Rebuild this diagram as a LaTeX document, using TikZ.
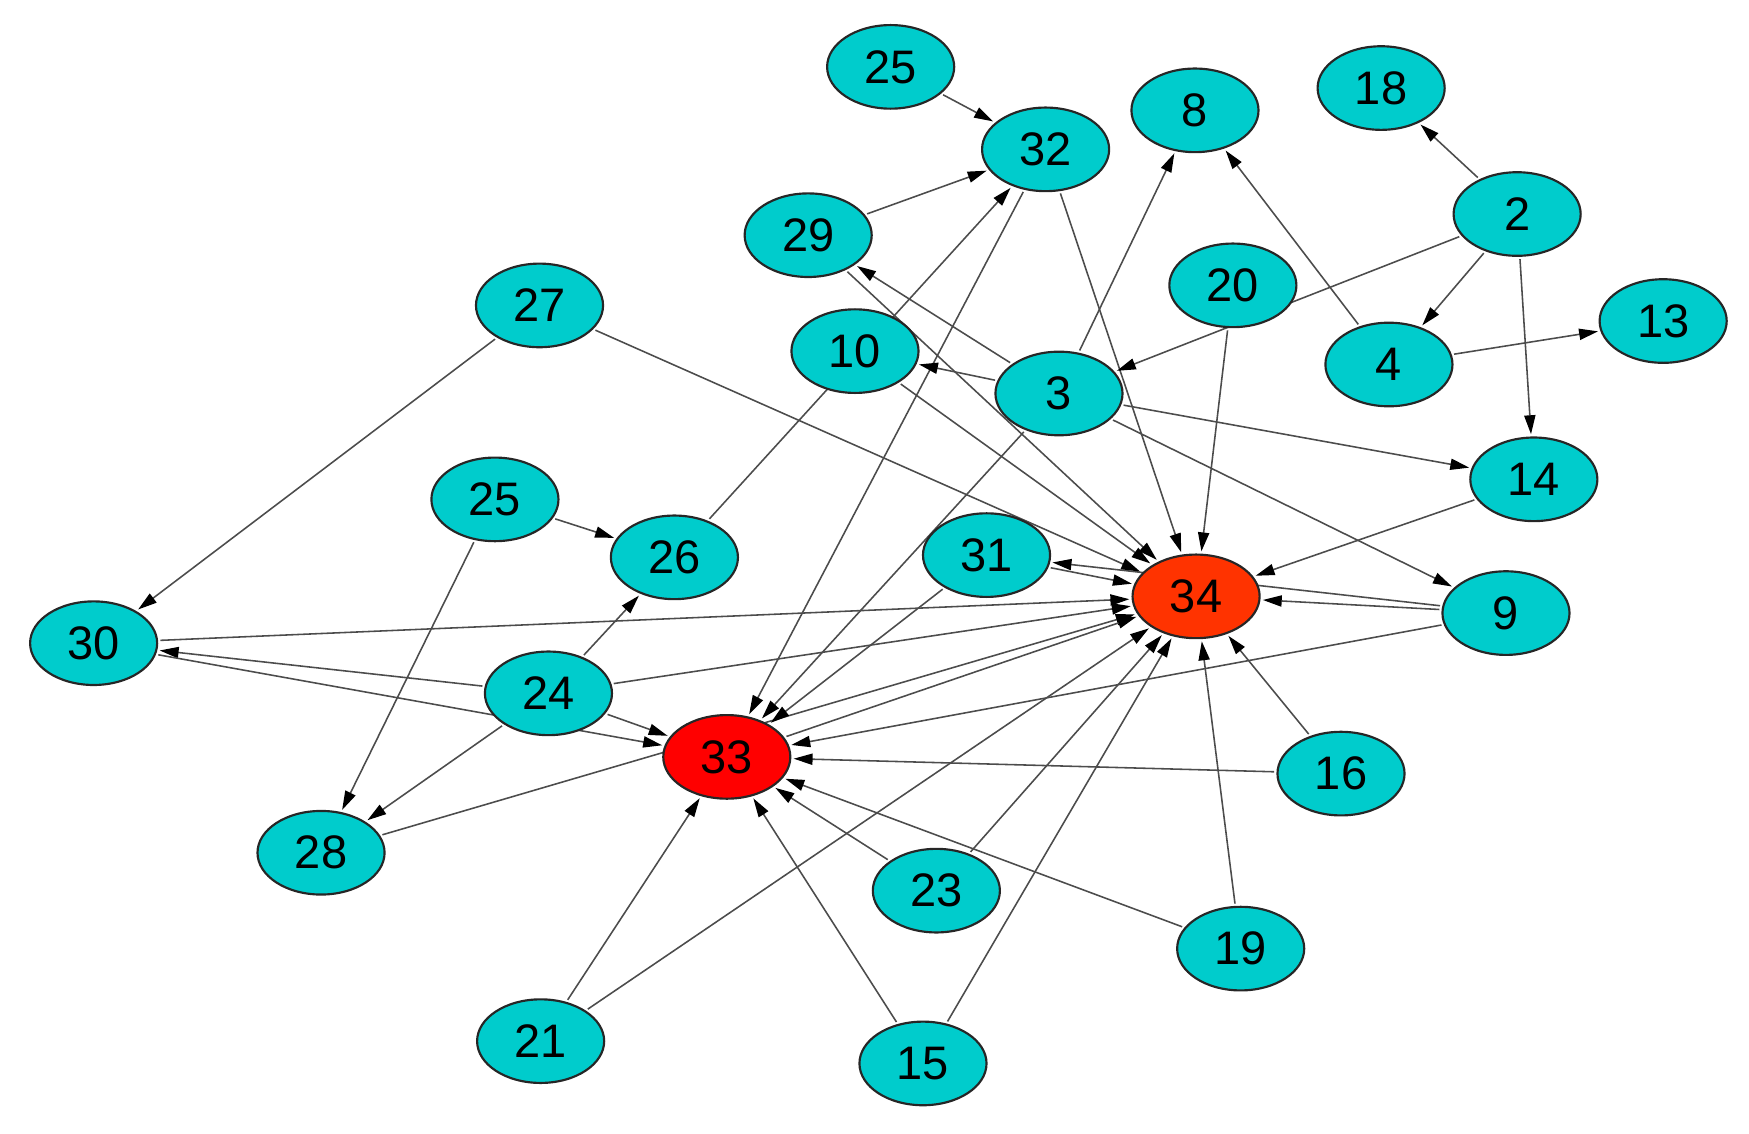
\documentclass[tikz,border=0pt]{standalone}
\usepackage{fontspec}
\setmainfont{Liberation Sans}
\usepackage{tikz}
\usetikzlibrary{
	arrows.meta,
	backgrounds,
	shapes.geometric
}
\definecolor{KCcyan}{RGB}{0,204,204}
\definecolor{KCred}{RGB}{255,0,0}
\definecolor{KCorange}{RGB}{255,51,0}
\tikzset{
	KC-Node/.style={ellipse,draw=black!85,line width=0.55pt,fill=KCcyan,minimum width=1.14cm,minimum height=0.75cm,inner sep=0pt,outer sep=0.3mm,font=\fontsize{12}{14}\selectfont},
	KC-Arrow/.style={-{Triangle[length=1.7mm,width=1mm,color=black]},draw=black!70,line width=0.4pt},
	vertex/.style={KC-Node}
}

\begin{document}
\begin{tikzpicture}[
	hub/.style={KC-Node,fill=#1}]
	\useasboundingbox (0,0) rectangle (15.69,-10.17);
	% members of the club
	\foreach \name/\x/\y/\txt in {
		v25a/7.99/-0.60/25, v32/9.38/-1.34/32, v8/10.72/-0.99/8,
		v18/12.39/-0.79/18, v2/13.61/-1.92/2, v29/7.25/-2.11/29,
		v20/11.06/-2.56/20, v27/4.84/-2.74/27, v13/14.92/-2.88/13,
		v4/12.46/-3.27/4, v10/7.67/-3.15/10, v3/9.50/-3.53/3,
		v14/13.76/-4.30/14, v25b/4.44/-4.48/25, v26/6.05/-5.00/26,
		v31/8.85/-4.98/31, v9/13.51/-5.50/9, v30/0.84/-5.77/30,
		v24/4.92/-6.22/24, v16/12.03/-6.94/16, v28/2.88/-7.65/28,
		v23/8.40/-7.99/23, v19/11.13/-8.51/19, v21/4.85/-9.34/21,
		v15/8.28/-9.54/15}
	{
		\node[vertex] (\name) at (\x,\y) {\txt};
	}
	% the two leaders
	\node[hub=KCorange] (v34) at (10.73,-5.35) {34};
	\node[hub=KCred] (v33) at (6.52,-6.79) {33};
	% ties, drawn under the nodes
	\begin{scope}[on background layer]
		\foreach \from/\to in {
			v25a/v32, v29/v32, v26/v32, v32/v33, v32/v34,
			v3/v29, v3/v10, v3/v8, v4/v8, v2/v18, v2/v3, v2/v4, v2/v14,
			v4/v13, v20/v34, v3/v14, v3/v9, v3/v33, v14/v34,
			v9/v34, v9/v31, v9/v33, v10/v34, v29/v34,
			v27/v30, v27/v34, v25b/v26, v25b/v28,
			v24/v26, v24/v28, v24/v30, v24/v33, v24/v34,
			v30/v33, v30/v34, v28/v34, v31/v33, v31/v34, v33/v34,
			v16/v33, v16/v34, v19/v33, v19/v34, v23/v33, v23/v34,
			v21/v33, v21/v34, v15/v33, v15/v34}
		{
			\draw[KC-Arrow] (\from) -- (\to);
		}
	\end{scope}
\end{tikzpicture}
\end{document}
